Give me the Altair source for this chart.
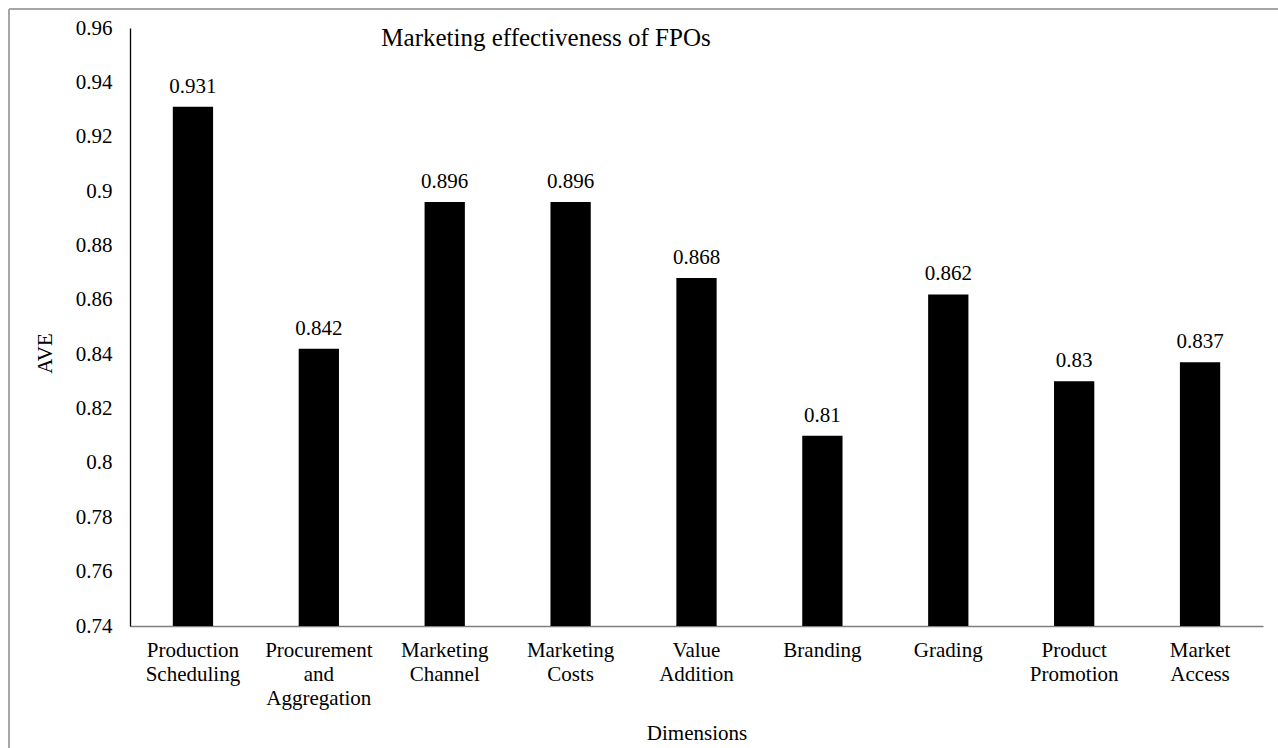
import altair as alt
import pandas as pd

categories = ["Production Scheduling", "Procurement and Aggregation", "Marketing Channel",
              "Marketing Costs", "Value Addition", "Branding", "Grading",
              "Product Promotion", "Market Access"]
values = [0.931, 0.842, 0.896, 0.896, 0.868, 0.81, 0.862, 0.83, 0.837]
value_labels = ["0.931", "0.842", "0.896", "0.896", "0.868", "0.81", "0.862", "0.83", "0.837"]
y_ticks = [0.74, 0.76, 0.78, 0.8, 0.82, 0.84, 0.86, 0.88, 0.9, 0.92, 0.94, 0.96]
y_base = 0.74
title_text = "Marketing effectiveness of FPOs"

df = pd.DataFrame({"cat": categories, "val": values, "lab": value_labels})

FONT = "Liberation Serif"
W, H = 1133, 598

x = alt.X("cat:N", sort=categories,
          scale=alt.Scale(paddingInner=0.68, paddingOuter=0.34),
          axis=alt.Axis(title="Dimensions", labelAngle=0, ticks=False, grid=False,
                        labelExpr="split(datum.label, ' ')",
                        labelFont=FONT, labelFontSize=21, labelColor="black",
                        labelLineHeight=24, labelPadding=13,
                        domainColor="#7f7f7f", domainWidth=1.3,
                        titleFont=FONT, titleFontSize=21, titleFontWeight="normal",
                        titleColor="black", titleY=107, titleBaseline="middle"))
y = alt.Y("val:Q",
          scale=alt.Scale(domain=[0.74, 0.96], nice=False, zero=False),
          axis=alt.Axis(title="AVE", values=y_ticks, ticks=False, grid=False,
                        labelExpr="format(datum.value, '.2~f')",
                        labelFont=FONT, labelFontSize=21, labelColor="black",
                        labelPadding=18, domainColor="black", domainWidth=1.3,
                        titleFont=FONT, titleFontSize=21, titleFontWeight="normal",
                        titleColor="black", titleX=-85, titleY=325,
                        titleBaseline="middle", titleAlign="center"))

bars = alt.Chart(df).mark_bar(color="black").encode(x=x, y=y, y2=alt.datum(y_base))
texts = alt.Chart(df).mark_text(font=FONT, fontSize=21, baseline="bottom", dy=-10,
                                color="black").encode(x=x, y=y, text="lab:N")

title = alt.Chart(pd.DataFrame({"t": [title_text]})).mark_text(
    font=FONT, fontSize=25, color="black", align="center", baseline="middle"
).encode(x=alt.value(546 - 130), y=alt.value(38 - 28), text="t:N")

one = pd.DataFrame({"a": [0]})
border_left = alt.Chart(one).mark_rule(color="#a6a6a6", strokeWidth=2).encode(
    x=alt.value(9 - 130), y=alt.value(9 - 28), y2=alt.value(760 - 28))
border_top = alt.Chart(one).mark_rule(color="#a6a6a6", strokeWidth=2).encode(
    x=alt.value(9 - 130), x2=alt.value(1290 - 130), y=alt.value(9 - 28))

chart = alt.layer(border_left, border_top, bars, texts, title).properties(
    width=W, height=H,
    view=alt.ViewBackground(stroke="white", strokeOpacity=0, fill="white"),
    autosize=alt.AutoSizeParams(type="none"),
    padding={"left": 130, "top": 28, "right": 15, "bottom": 122},
).configure_view(stroke=None).configure_axis(grid=False).configure(background="white", font=FONT)

chart.save("out.html", embed_options={"renderer": "svg", "actions": False})
